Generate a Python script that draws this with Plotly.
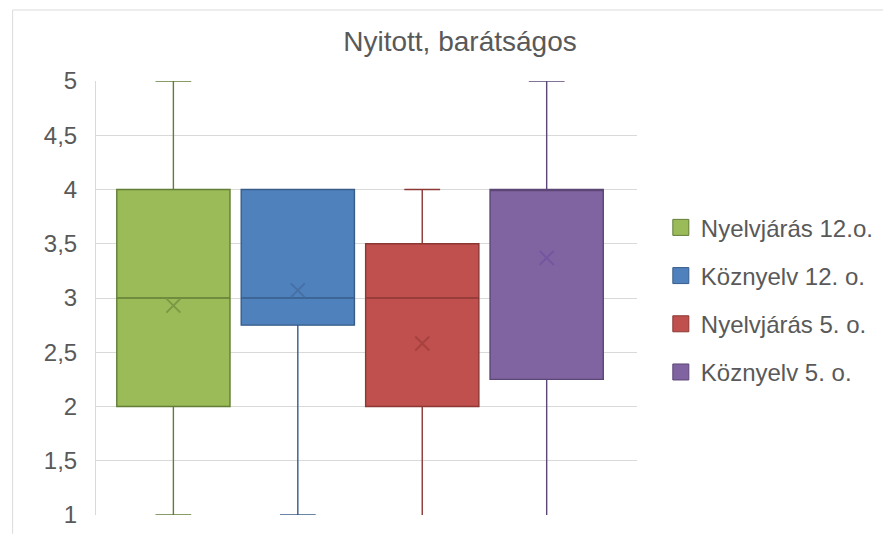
import plotly.graph_objects as go

series = ["Nyelvjárás 12.o.", "Köznyelv 12. o.", "Nyelvjárás 5. o.", "Köznyelv 5. o."]
q1_vals = [2, 2.75, 2, 2.25]
median_vals = [3, 3, 3, 4]
q3_vals = [4, 4, 3.5, 4]
lower_vals = [1, 1, 0.9, 0.9]
upper_vals = [5, 4, 4, 5]
mean_vals = [2.93, 3.07, 2.58, 3.37]
tick_vals = [1, 1.5, 2, 2.5, 3, 3.5, 4, 4.5, 5]
tick_text = ["1", "1,5", "2", "2,5", "3", "3,5", "4", "4,5", "5"]

fill_colors = ["#9BBB59", "#4F81BD", "#C0504D", "#8064A2"]
line_colors = ["#627D36", "#385C88", "#8B3734", "#5B4676"]
mark_colors = ["#7C9845", "#4670A6", "#A6423F", "#7355A0"]

# page is offset by the 8px body margin
W, H = 883, 532
L, T = 88, 73
pw, ph = 545, 440
R, B = W - L - pw, H - T - ph

fig = go.Figure()
for i, name in enumerate(series):
    fig.add_trace(go.Box(
        x=[name], q1=[q1_vals[i]], median=[median_vals[i]], q3=[q3_vals[i]],
        lowerfence=[lower_vals[i]], upperfence=[upper_vals[i]],
        name=name, showlegend=False,
        fillcolor=fill_colors[i], line=dict(color=line_colors[i], width=1.4),
        width=0.91, whiskerwidth=0.316, boxpoints=False,
    ))
for i, name in enumerate(series):
    fig.add_trace(go.Scatter(
        x=[name], y=[mean_vals[i]], mode="markers", showlegend=False,
        marker=dict(symbol="x-thin", size=14, line=dict(color=mark_colors[i], width=2)),
        hoverinfo="skip",
    ))
# legend entries (square swatches)
for i, name in enumerate(series):
    fig.add_trace(go.Scatter(
        x=[None], y=[None], mode="markers", name=name, legendgroup=name,
        marker=dict(symbol="square", size=16, color=fill_colors[i],
                    line=dict(color=line_colors[i], width=1)),
    ))


def px(xp):
    return (xp - L) / pw


def py(yp):
    return (T + ph - yp) / ph


fig.update_layout(
    width=W, height=H,
    margin=dict(l=L, r=R, t=T, b=B),
    paper_bgcolor="white", plot_bgcolor="white",
    title=dict(text="Nyitott, barátságos", x=452 / W, xanchor="center",
               y=1 - 33 / H, yanchor="middle",
               font=dict(family="Liberation Sans, Arial", size=28, color="#595959")),
    font=dict(family="Liberation Sans, Arial", color="#595959"),
    boxmode="overlay",
    xaxis=dict(type="category", range=[-0.622, 3.726], showticklabels=False,
               showgrid=False, zeroline=False, showline=False, fixedrange=True),
    yaxis=dict(range=[1, 5], tickvals=tick_vals, ticktext=tick_text,
               showgrid=True, gridcolor="#D9D9D9", gridwidth=1,
               zeroline=False, showline=True, linecolor="#D9D9D9",
               ticks="", ticklabelstandoff=13,
               tickfont=dict(size=24, color="#595959")),
    legend=dict(x=px(657), xanchor="left", y=py(199), yanchor="top",
                font=dict(size=24, color="#595959"), tracegroupgap=14,
                itemwidth=30, bgcolor="rgba(0,0,0,0)"),
    shapes=[
        dict(type="line", xref="paper", yref="paper", x0=px(4), x1=px(W), y0=py(1), y1=py(1),
             line=dict(color="#DCDCDC", width=1)),
        dict(type="line", xref="paper", yref="paper", x0=px(4), x1=px(4), y0=py(1), y1=py(H),
             line=dict(color="#DCDCDC", width=1)),
    ],
)

fig.write_html("out.html")
